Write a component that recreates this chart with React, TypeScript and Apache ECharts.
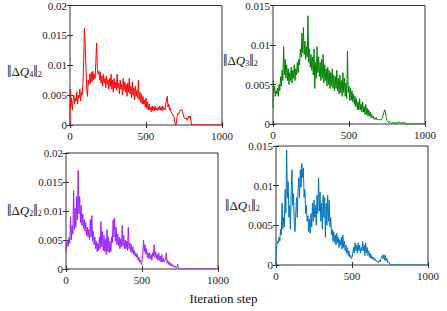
import React, { useEffect, useRef } from "react";
import * as echarts from "echarts";

const xTicks = [0, 500, 1000];
const q4Ticks = [0, 0.005, 0.01, 0.015, 0.02];
const q3Ticks = [0, 0.005, 0.01, 0.015];

// ||ΔQ4||2 (red, top-left): [iteration, value]
const q4: number[][] = [
  [0, 0], [2, 0.006], [5, 0.003], [10, 0.0045], [15, 0.0025], [20, 0.004], [25, 0.005], [30, 0.0035], [35, 0.0045], [40, 0.004],
  [45, 0.0055], [50, 0.0035], [55, 0.005], [60, 0.0045], [65, 0.006], [70, 0.004], [75, 0.0055], [80, 0.005], [85, 0.007], [90, 0.0105],
  [95, 0.0162], [100, 0.0135], [105, 0.0095], [110, 0.006], [115, 0.0048], [120, 0.0075], [125, 0.0068], [130, 0.0085], [135, 0.007], [140, 0.0088],
  [145, 0.0072], [150, 0.009], [155, 0.0075], [160, 0.0085], [165, 0.0078], [170, 0.0105], [175, 0.0137], [180, 0.0095], [185, 0.0085], [190, 0.009],
  [195, 0.0075], [200, 0.0088], [205, 0.007], [210, 0.0082], [215, 0.0065], [220, 0.0085], [225, 0.007], [230, 0.0078], [235, 0.0062], [240, 0.0082],
  [245, 0.0068], [250, 0.0075], [255, 0.006], [260, 0.0078], [265, 0.0065], [270, 0.0085], [275, 0.006], [280, 0.0075], [285, 0.0055], [290, 0.0078],
  [295, 0.0062], [300, 0.0072], [305, 0.0058], [310, 0.0085], [315, 0.0062], [320, 0.007], [325, 0.0052], [330, 0.0075], [335, 0.006], [340, 0.0068],
  [345, 0.005], [350, 0.0078], [355, 0.0058], [360, 0.0072], [365, 0.0055], [370, 0.0068], [375, 0.0048], [380, 0.007], [385, 0.0055], [390, 0.0078],
  [395, 0.0052], [400, 0.0065], [405, 0.0045], [410, 0.0072], [415, 0.005], [420, 0.0062], [425, 0.0042], [430, 0.0065], [435, 0.0048], [440, 0.0058],
  [445, 0.0045], [450, 0.0075], [455, 0.0042], [460, 0.0055], [465, 0.0038], [470, 0.0052], [475, 0.0035], [480, 0.0048], [485, 0.0035], [490, 0.0042],
  [495, 0.003], [500, 0.0045], [505, 0.0028], [510, 0.0038], [515, 0.0025], [520, 0.0035], [525, 0.0025], [530, 0.003], [535, 0.0022], [540, 0.0032],
  [545, 0.0024], [550, 0.003], [555, 0.0024], [560, 0.0032], [565, 0.0025], [570, 0.0028], [575, 0.0024], [580, 0.003], [585, 0.0025], [590, 0.0032],
  [595, 0.0025], [600, 0.003], [605, 0.0024], [610, 0.0032], [615, 0.0026], [620, 0.0028], [625, 0.0025], [630, 0.0035], [635, 0.0042], [640, 0.0048],
  [645, 0.003], [650, 0.0035], [655, 0.0025], [660, 0.0028], [665, 0.0022], [670, 0.002], [675, 0.0018], [680, 0.0015], [685, 0.0012], [690, 0.0005],
  [695, 0], [700, 0.0003], [705, 0.0015], [710, 0.002], [715, 0.0018], [720, 0.0022], [725, 0.0025], [730, 0.0024], [735, 0.0026], [740, 0.0022],
  [745, 0.0018], [750, 0.0012], [755, 0.0012], [760, 0.001], [765, 0.0012], [770, 0.0008], [775, 0.001], [780, 0.0015], [785, 0.0012], [790, 0.0015],
  [795, 0.0008], [800, 0], [1000, 0],
];

// ||ΔQ3||2 (green, top-right)
const q3: number[][] = [
  [0, 0.002], [3, 0.0055], [5, 0.004], [10, 0.0048], [15, 0.0035], [20, 0.0042], [25, 0.0038], [30, 0.0045], [35, 0.0035], [40, 0.005],
  [45, 0.0042], [50, 0.006], [55, 0.0048], [60, 0.0068], [65, 0.0055], [70, 0.0098], [75, 0.0062], [80, 0.0082], [85, 0.0058], [90, 0.0075],
  [95, 0.0055], [100, 0.007], [105, 0.005], [110, 0.0065], [115, 0.0055], [120, 0.0072], [125, 0.0052], [130, 0.0068], [135, 0.0058], [140, 0.0075],
  [145, 0.0055], [150, 0.007], [155, 0.0062], [160, 0.0078], [165, 0.0065], [170, 0.0082], [175, 0.0075], [180, 0.0095], [185, 0.0085], [190, 0.0115],
  [195, 0.009], [200, 0.0122], [205, 0.0088], [210, 0.0105], [215, 0.0082], [220, 0.0098], [225, 0.0085], [230, 0.0137], [235, 0.0078], [240, 0.0095],
  [245, 0.0072], [250, 0.0088], [255, 0.0068], [260, 0.0085], [265, 0.0062], [270, 0.0095], [275, 0.0045], [280, 0.0078], [285, 0.0058], [290, 0.0098],
  [295, 0.0065], [300, 0.0085], [305, 0.006], [310, 0.0078], [315, 0.0055], [320, 0.0082], [325, 0.0058], [330, 0.0088], [335, 0.0052], [340, 0.0075],
  [345, 0.0055], [350, 0.007], [355, 0.0048], [360, 0.0072], [365, 0.005], [370, 0.0068], [375, 0.0045], [380, 0.0065], [385, 0.0048], [390, 0.007],
  [395, 0.0045], [400, 0.0062], [405, 0.0042], [410, 0.006], [415, 0.0045], [420, 0.0068], [425, 0.0042], [430, 0.0058], [435, 0.0038], [440, 0.0062],
  [445, 0.004], [450, 0.0055], [455, 0.0035], [460, 0.0065], [465, 0.004], [470, 0.0058], [475, 0.0035], [480, 0.0052], [485, 0.0032], [490, 0.0092],
  [495, 0.004], [500, 0.0048], [505, 0.003], [510, 0.0045], [515, 0.003], [520, 0.0042], [525, 0.0028], [530, 0.0038], [535, 0.0025], [540, 0.0035],
  [545, 0.0022], [550, 0.0032], [555, 0.0018], [560, 0.0028], [565, 0.0018], [570, 0.0032], [575, 0.0018], [580, 0.0025], [585, 0.0015], [590, 0.0028],
  [595, 0.0015], [600, 0.0022], [605, 0.0012], [610, 0.0025], [615, 0.0012], [620, 0.002], [625, 0.001], [630, 0.0018], [635, 0.001], [640, 0.0015],
  [645, 0.0008], [650, 0.0012], [655, 0.0008], [660, 0.001], [665, 0.0006], [670, 0.0008], [675, 0.0006], [680, 0.0008], [685, 0.0005], [690, 0.0006],
  [695, 0.0005], [700, 0.0006], [710, 0.0005], [720, 0.0008], [730, 0.0015], [735, 0.0018], [740, 0.0015], [745, 0.0008], [750, 0.0004], [760, 0.0002],
  [770, 0.0003], [780, 0.0001], [790, 0.0002], [800, 0.0001], [810, 0.0002], [820, 0.0001], [830, 0.0003], [840, 0.0001], [860, 0.0002], [880, 0],
  [1000, 0],
];

// ||ΔQ2||2 (purple, bottom-left)
const q2: number[][] = [
  [0, 0.003], [3, 0.0045], [5, 0.0038], [10, 0.005], [15, 0.004], [20, 0.0055], [25, 0.0045], [30, 0.009], [35, 0.005], [40, 0.0075],
  [45, 0.006], [50, 0.0135], [55, 0.0068], [60, 0.0105], [65, 0.0072], [70, 0.0125], [75, 0.0085], [80, 0.017], [85, 0.0095], [90, 0.0125],
  [95, 0.008], [100, 0.011], [105, 0.0075], [110, 0.0095], [115, 0.007], [120, 0.0085], [125, 0.0065], [130, 0.008], [135, 0.0058], [140, 0.0072],
  [145, 0.0055], [150, 0.0068], [155, 0.005], [160, 0.0085], [165, 0.0055], [170, 0.0092], [175, 0.0048], [180, 0.0065], [185, 0.0042], [190, 0.0055],
  [195, 0.0035], [200, 0.0048], [205, 0.003], [210, 0.0045], [215, 0.0032], [220, 0.0055], [225, 0.0035], [230, 0.0082], [235, 0.0038], [240, 0.0065],
  [245, 0.0032], [250, 0.0058], [255, 0.003], [260, 0.0052], [265, 0.0025], [270, 0.0068], [275, 0.003], [280, 0.0055], [285, 0.0028], [290, 0.0048],
  [295, 0.003], [300, 0.0055], [305, 0.0045], [310, 0.0085], [315, 0.0055], [320, 0.0088], [325, 0.0048], [330, 0.0072], [335, 0.0042], [340, 0.006],
  [345, 0.004], [350, 0.0055], [355, 0.0035], [360, 0.0052], [365, 0.0038], [370, 0.0075], [375, 0.004], [380, 0.0058], [385, 0.0035], [390, 0.005],
  [395, 0.0035], [400, 0.0048], [405, 0.0032], [410, 0.0072], [415, 0.0035], [420, 0.0045], [425, 0.003], [430, 0.0042], [435, 0.0028], [440, 0.0038],
  [445, 0.0025], [450, 0.0032], [455, 0.0022], [460, 0.0028], [465, 0.002], [470, 0.0025], [475, 0.0015], [480, 0.002], [485, 0.0012], [490, 0.0015],
  [495, 0.0008], [500, 0.0012], [505, 0.0025], [510, 0.005], [515, 0.003], [520, 0.0042], [525, 0.0025], [530, 0.0035], [535, 0.002], [540, 0.0028],
  [545, 0.0018], [550, 0.0028], [555, 0.0018], [560, 0.0025], [565, 0.0015], [570, 0.0028], [575, 0.0022], [580, 0.0042], [585, 0.002], [590, 0.003],
  [595, 0.0018], [600, 0.0025], [605, 0.0015], [610, 0.0028], [615, 0.0015], [620, 0.0022], [625, 0.0012], [630, 0.0025], [635, 0.0012], [640, 0.0018],
  [645, 0.0012], [650, 0.0015], [655, 0.0015], [660, 0.0028], [665, 0.001], [670, 0.0015], [675, 0.0008], [680, 0.0012], [685, 0.0006], [690, 0.001],
  [695, 0.0005], [700, 0.0008], [705, 0.0004], [710, 0.0006], [715, 0.0003], [720, 0.0005], [725, 0.0002], [730, 0.0004], [735, 0.0008], [740, 0.0001],
  [750, 0], [1000, 0],
];

// ||ΔQ1||2 (blue, bottom-right)
const q1: number[][] = [
  [0, 0], [2, 0.002], [5, 0.0025], [10, 0.003], [15, 0.0028], [20, 0.0035], [25, 0.003], [30, 0.0045], [35, 0.0038], [40, 0.0078],
  [45, 0.0045], [50, 0.006], [55, 0.0048], [60, 0.0095], [65, 0.0065], [70, 0.0145], [75, 0.0085], [80, 0.0105], [85, 0.006], [90, 0.0075],
  [95, 0.0045], [100, 0.0095], [105, 0.012], [110, 0.0075], [115, 0.009], [120, 0.0055], [125, 0.0042], [130, 0.0065], [135, 0.0085], [140, 0.006],
  [145, 0.0095], [150, 0.011], [155, 0.0085], [160, 0.012], [165, 0.0098], [170, 0.0128], [175, 0.011], [180, 0.0122], [185, 0.0085], [190, 0.0095],
  [195, 0.0065], [200, 0.0075], [205, 0.0055], [210, 0.0062], [215, 0.0042], [220, 0.0058], [225, 0.004], [230, 0.0065], [235, 0.0048], [240, 0.0078],
  [245, 0.0055], [250, 0.0082], [255, 0.006], [260, 0.0075], [265, 0.005], [270, 0.0088], [275, 0.0065], [280, 0.011], [285, 0.0068], [290, 0.0092],
  [295, 0.0055], [300, 0.0078], [305, 0.0045], [310, 0.0088], [315, 0.006], [320, 0.0085], [325, 0.0035], [330, 0.0078], [335, 0.005], [340, 0.0088],
  [345, 0.0055], [350, 0.0082], [355, 0.0048], [360, 0.006], [365, 0.0038], [370, 0.0045], [375, 0.003], [380, 0.0042], [385, 0.0028], [390, 0.0038],
  [395, 0.0025], [400, 0.004], [405, 0.0028], [410, 0.0035], [415, 0.0022], [420, 0.0032], [425, 0.0025], [430, 0.0035], [435, 0.002], [440, 0.0038],
  [445, 0.0022], [450, 0.003], [455, 0.0018], [460, 0.0025], [465, 0.0015], [470, 0.0022], [475, 0.0012], [480, 0.0018], [485, 0.001], [490, 0.0012],
  [495, 0.0008], [500, 0.001], [505, 0.0015], [510, 0.0022], [515, 0.0015], [520, 0.0028], [525, 0.0018], [530, 0.0025], [535, 0.0015], [540, 0.0028],
  [545, 0.0018], [550, 0.0025], [555, 0.0015], [560, 0.0022], [565, 0.0018], [570, 0.003], [575, 0.0018], [580, 0.0025], [585, 0.0012], [590, 0.0028],
  [595, 0.0015], [600, 0.0022], [605, 0.0012], [610, 0.0018], [615, 0.001], [620, 0.0015], [625, 0.0008], [630, 0.0012], [635, 0.0008], [640, 0.001],
  [645, 0.0006], [650, 0.0008], [655, 0.0005], [660, 0.0006], [665, 0.0004], [670, 0.0005], [675, 0.0003], [680, 0.0006], [685, 0.0004], [690, 0.0008],
  [695, 0.001], [700, 0.0012], [705, 0.0008], [710, 0.0013], [715, 0.0006], [720, 0.0012], [725, 0.0005], [730, 0.0008], [735, 0.0003], [740, 0.0004],
  [750, 0.0001], [760, 0], [1000, 0],
];

const panels = [
  { data: q4, color: "#ff0000", yMax: 0.02, idx: "4", grid: { left: 70, top: 5, width: 152, height: 120 }, label: { x: 7, y: 63 } },
  { data: q3, color: "#008000", yMax: 0.015, idx: "3", grid: { left: 273, top: 5, width: 152, height: 119 }, label: { x: 223, y: 52 } },
  { data: q2, color: "#9b1fff", yMax: 0.02, idx: "2", grid: { left: 66, top: 153, width: 152, height: 116 }, label: { x: 7, y: 202 } },
  { data: q1, color: "#0072bd", yMax: 0.015, idx: "1", grid: { left: 276, top: 146, width: 152, height: 119 }, label: { x: 225, y: 197 } },
];

const FONT = "Liberation Serif";

export default function App() {
  const ref = useRef<HTMLDivElement>(null);
  useEffect(() => {
    if (!ref.current) return;
    const chart = echarts.init(ref.current, null, { renderer: "svg" });
    const grids: any[] = [];
    const xAxes: any[] = [];
    const yAxes: any[] = [];
    const series: any[] = [];
    const graphics: any[] = [];
    panels.forEach((p, i) => {
      grids.push({ ...p.grid, show: true, borderColor: "#333", borderWidth: 1, backgroundColor: "#fff" });
      const common = {
        axisLine: { show: false },
        splitLine: { show: false },
        axisTick: { inside: true, length: 3, lineStyle: { color: "#333" } },
      };
      xAxes.push({
        type: "value", gridIndex: i, min: xTicks[0], max: xTicks[2], interval: xTicks[1], position: "bottom",
        ...common,
        axisLabel: { fontFamily: FONT, fontSize: 11, color: "#222", margin: 5, formatter: (v: number) => String(v) },
      });
      xAxes.push({
        type: "value", gridIndex: i, min: xTicks[0], max: xTicks[2], interval: xTicks[1], position: "top",
        ...common, axisLabel: { show: false },
      });
      const ticks = p.yMax === 0.02 ? q4Ticks : q3Ticks;
      yAxes.push({
        type: "value", gridIndex: i, min: 0, max: p.yMax, interval: ticks[1], position: "left",
        ...common,
        axisLabel: { fontFamily: FONT, fontSize: 11, color: "#222", margin: 3, formatter: (v: number) => String(+v.toFixed(4)) },
      });
      yAxes.push({
        type: "value", gridIndex: i, min: 0, max: p.yMax, interval: ticks[1], position: "right",
        ...common, axisLabel: { show: false },
      });
      series.push({
        type: "line", xAxisIndex: i * 2, yAxisIndex: i * 2, data: p.data, showSymbol: false, symbol: "none",
        lineStyle: { color: p.color, width: 1 }, clip: true,
      });
      graphics.push({
        type: "text", left: p.label.x, top: p.label.y,
        style: {
          text: "{n|‖}{d|Δ}{q|Q}{s|" + p.idx + "}{n|‖}{s|2}",
          rich: {
            n: { fontFamily: FONT, fontSize: 16, fill: "#111" },
            d: { fontFamily: FONT, fontSize: 13, fill: "#111" },
            q: { fontFamily: FONT, fontSize: 13, fontStyle: "italic", fill: "#111" },
            s: { fontFamily: FONT, fontSize: 8, fill: "#111", padding: [7, 0, 0, 0] },
          },
        },
      });
    });
    graphics.push({
      type: "text", left: "center", top: 292,
      style: { text: "Iteration step", fontFamily: FONT, fontSize: 13, fill: "#111" },
    });
    chart.setOption({
      animation: false,
      backgroundColor: "#fff",
      textStyle: { fontFamily: FONT },
      grid: grids,
      xAxis: xAxes,
      yAxis: yAxes,
      series,
      graphic: graphics,
    });
    return () => chart.dispose();
  }, []);
  return <div ref={ref} style={{ position: "fixed", left: 0, top: 0, width: 447, height: 311 }} />;
}
